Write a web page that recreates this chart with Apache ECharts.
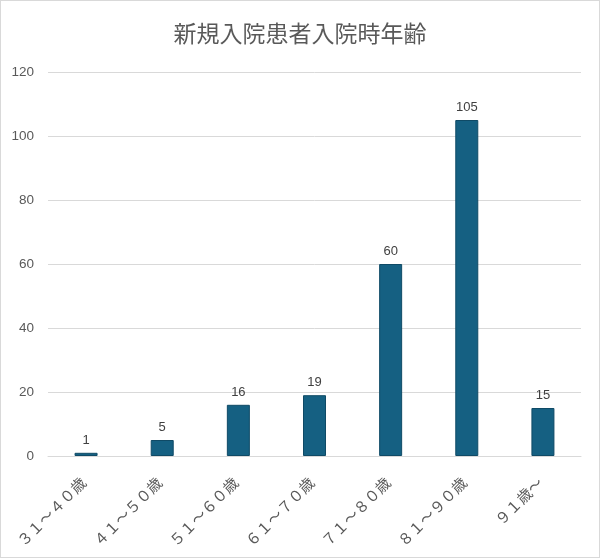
<!DOCTYPE html>
<html>
<head>
<meta charset="utf-8">
<script src="https://cdn.jsdelivr.net/npm/echarts@6/dist/echarts.min.js"></script>
<style>
html,body{margin:0;padding:0;background:#fff;}
#c{width:598px;height:556px;border:1px solid #d9d9d9;}
</style>
</head>
<body>
<div id="c"></div>
<script>
const categories = ['３１～４０歳','４１～５０歳','５１～６０歳','６１～７０歳','７１～８０歳','８１～９０歳','９１歳～'];
const values = [1, 5, 16, 19, 60, 105, 15];
const titleText = '新規入院患者入院時年齢';

const chart = echarts.init(document.getElementById('c'));
chart.setOption({
  animation: false,
  backgroundColor: '#fff',
  title: {
    text: titleText,
    left: 'center',
    top: 16,
    textStyle: {fontFamily: 'Noto Sans CJK JP', fontSize: 23, fontWeight: 'normal', color: '#595959'}
  },
  grid: {left: 47, right: 18, top: 71, bottom: 101, containLabel: false},
  xAxis: {
    type: 'category',
    data: categories,
    axisLine: {lineStyle: {color: '#d9d9d9'}},
    axisTick: {show: false},
    axisLabel: {rotate: 45, color: '#595959', fontSize: 15, margin: 21, fontFamily: 'Noto Sans CJK JP', interval: 0, padding: [0, 4, 0, 0]}
  },
  yAxis: {
    type: 'value',
    min: 0, max: 120, interval: 20,
    axisLine: {show: false},
    axisTick: {show: false},
    splitLine: {lineStyle: {color: '#d9d9d9'}},
    axisLabel: {color: '#595959', fontSize: 13.5, margin: 14, fontFamily: 'Liberation Sans'}
  },
  series: [{
    type: 'bar',
    data: values,
    barWidth: 23,
    itemStyle: {color: '#156082', borderColor: '#0f4a66', borderWidth: 1},
    label: {show: true, position: 'top', color: '#404040', fontSize: 13, distance: 6, fontFamily: 'Liberation Sans'}
  }]
});
</script>
</body>
</html>
